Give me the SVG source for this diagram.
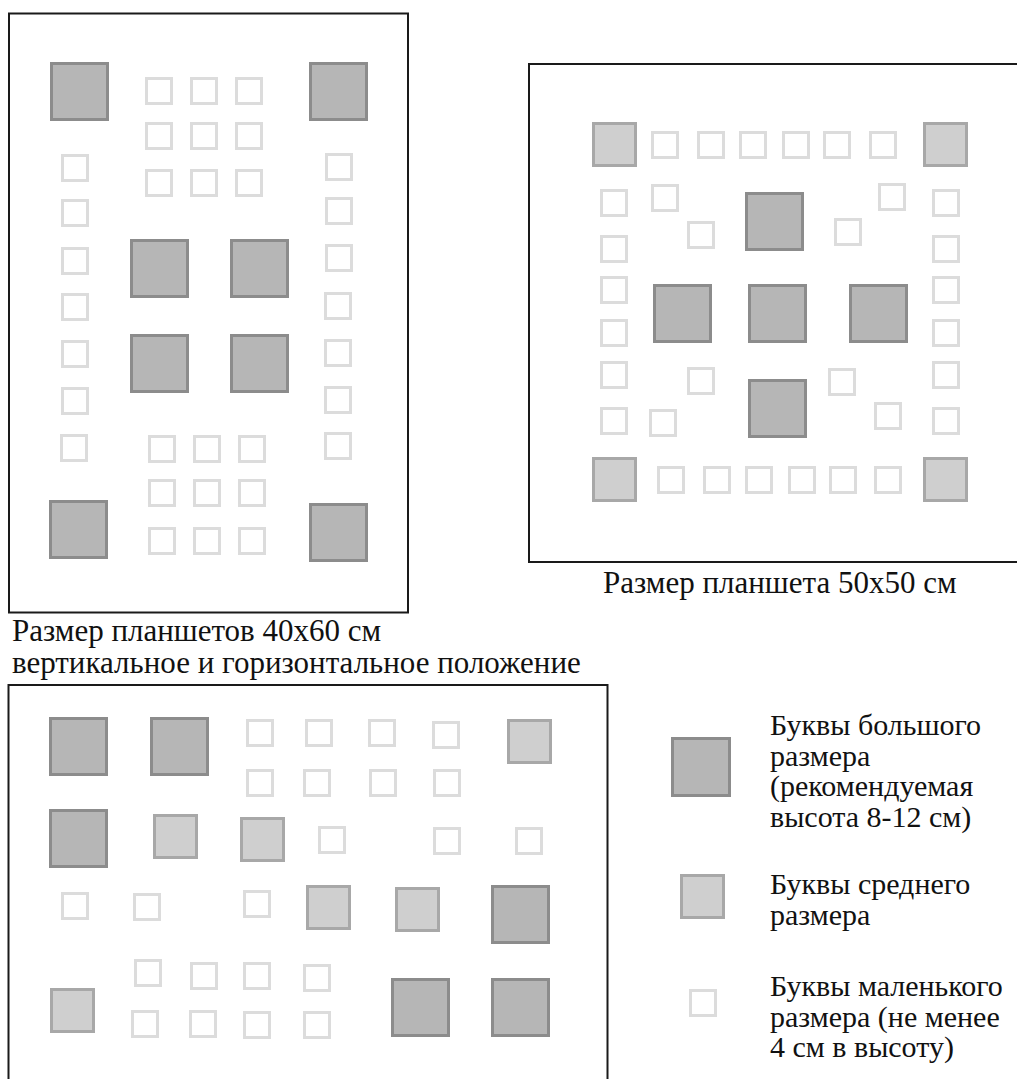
<svg xmlns="http://www.w3.org/2000/svg" width="1017" height="1079" viewBox="0 0 1017 1079">
<style>
.frame{fill:none;stroke:#1a1a1a;stroke-width:2}
.b{fill:#b6b6b6;stroke:#8c8c8c;stroke-width:3}
.m{fill:#cfcfcf;stroke:#a8a8a8;stroke-width:3}
.s{fill:#ffffff;stroke:#dcdcdc;stroke-width:3}
.cap{font-size:31px}
.leg{font-size:30px}
</style>
<defs>
<rect id="B" class="b" x="1.5" y="1.5" width="56" height="56"/>
<rect id="M" class="m" x="1.5" y="1.5" width="42" height="42"/>
<rect id="S" class="s" x="1.5" y="1.5" width="25" height="25"/>
</defs>
<rect width="1017" height="1079" fill="#ffffff"/>

<g id="panel-40x60-vertical">
<rect class="frame" x="9" y="13.5" width="399" height="599"/>
<use href="#B" x="50" y="62"/><use href="#B" x="309" y="62"/>
<use href="#B" x="130" y="239"/><use href="#B" x="230" y="239"/>
<use href="#B" x="130" y="334"/><use href="#B" x="230" y="334"/>
<use href="#B" x="49" y="500"/><use href="#B" x="309" y="503"/>
<use href="#S" x="145" y="77"/><use href="#S" x="190" y="77"/><use href="#S" x="235" y="77"/>
<use href="#S" x="145" y="122"/><use href="#S" x="190" y="122"/><use href="#S" x="235" y="122"/>
<use href="#S" x="145" y="169"/><use href="#S" x="190" y="169"/><use href="#S" x="235" y="169"/>
<use href="#S" x="61" y="154"/><use href="#S" x="61" y="199"/><use href="#S" x="61" y="247"/><use href="#S" x="61" y="293"/><use href="#S" x="61" y="340"/><use href="#S" x="61" y="387"/><use href="#S" x="60" y="434"/>
<use href="#S" x="325" y="153"/><use href="#S" x="325" y="197"/><use href="#S" x="325" y="244"/><use href="#S" x="324" y="292"/><use href="#S" x="324" y="339"/><use href="#S" x="324" y="386"/><use href="#S" x="324" y="432"/>
<use href="#S" x="148" y="435"/><use href="#S" x="193" y="435"/><use href="#S" x="238" y="435"/>
<use href="#S" x="148" y="479"/><use href="#S" x="193" y="479"/><use href="#S" x="238" y="479"/>
<use href="#S" x="148" y="527"/><use href="#S" x="193" y="527"/><use href="#S" x="238" y="527"/>
</g>

<g id="panel-50x50">
<rect class="frame" x="529" y="64" width="500" height="498"/>
<use href="#M" x="592" y="122"/><use href="#M" x="923" y="122"/>
<use href="#M" x="592" y="457"/><use href="#M" x="923" y="457"/>
<use href="#S" x="651" y="131"/><use href="#S" x="697" y="131"/><use href="#S" x="739" y="131"/><use href="#S" x="782" y="131"/><use href="#S" x="823" y="131"/><use href="#S" x="869" y="131"/>
<use href="#S" x="657" y="466"/><use href="#S" x="703" y="466"/><use href="#S" x="745" y="466"/><use href="#S" x="788" y="466"/><use href="#S" x="829" y="466"/><use href="#S" x="874" y="466"/>
<use href="#S" x="600" y="189"/><use href="#S" x="600" y="235"/><use href="#S" x="600" y="276"/><use href="#S" x="600" y="319"/><use href="#S" x="600" y="361"/><use href="#S" x="600" y="407"/>
<use href="#S" x="932" y="189"/><use href="#S" x="932" y="235"/><use href="#S" x="932" y="276"/><use href="#S" x="932" y="319"/><use href="#S" x="932" y="361"/><use href="#S" x="932" y="407"/>
<use href="#S" x="651" y="184"/><use href="#S" x="687" y="221"/><use href="#S" x="834" y="218"/><use href="#S" x="878" y="183"/>
<use href="#S" x="687" y="367"/><use href="#S" x="828" y="368"/><use href="#S" x="649" y="409"/><use href="#S" x="874" y="402"/>
<use href="#B" x="745" y="192"/>
<use href="#B" x="653" y="284"/><use href="#B" x="748" y="284"/><use href="#B" x="849" y="284"/>
<use href="#B" x="748" y="379"/>
</g>

<g id="panel-40x60-horizontal">
<rect class="frame" x="8.5" y="685" width="599" height="420"/>
<use href="#B" x="49" y="717"/><use href="#B" x="150" y="717"/><use href="#B" x="49" y="809"/>
<use href="#B" x="491" y="885"/><use href="#B" x="391" y="978"/><use href="#B" x="491" y="978"/>
<use href="#M" x="507" y="719"/><use href="#M" x="153" y="814"/><use href="#M" x="240" y="817"/>
<use href="#M" x="306" y="885"/><use href="#M" x="395" y="887"/><use href="#M" x="50" y="988"/>
<use href="#S" x="246" y="719"/><use href="#S" x="305" y="719"/><use href="#S" x="368" y="719"/><use href="#S" x="432" y="721"/>
<use href="#S" x="246" y="769"/><use href="#S" x="303" y="769"/><use href="#S" x="369" y="769"/><use href="#S" x="433" y="769"/>
<use href="#S" x="318" y="826"/><use href="#S" x="433" y="827"/><use href="#S" x="515" y="827"/>
<use href="#S" x="61" y="892"/><use href="#S" x="133" y="893"/><use href="#S" x="243" y="890"/>
<use href="#S" x="134" y="959"/><use href="#S" x="190" y="962"/><use href="#S" x="243" y="962"/><use href="#S" x="303" y="964"/>
<use href="#S" x="131" y="1010"/><use href="#S" x="189" y="1010"/><use href="#S" x="243" y="1011"/><use href="#S" x="303" y="1011"/>
</g>

<g id="captions" font-family="'Liberation Serif', 'DejaVu Serif', serif" fill="#111111">
<text class="cap" x="12" y="641">Размер планшетов 40x60 см</text>
<text class="cap" x="12" y="673">вертикальное и горизонтальное положение</text>
<text class="cap" x="603" y="593">Размер планшета 50x50 см</text>
</g>

<g id="legend" font-family="'Liberation Serif', 'DejaVu Serif', serif" fill="#111111">
<rect class="b" x="672.5" y="738.5" width="57" height="57"/>
<rect class="m" x="681.5" y="875.5" width="42" height="42"/>
<rect class="s" x="690.5" y="990.5" width="25" height="25"/>
<text class="leg" x="770" y="735">Буквы большого</text>
<text class="leg" x="770" y="766">размера</text>
<text class="leg" x="770" y="796">(рекомендуемая</text>
<text class="leg" x="770" y="827">высота 8-12 см)</text>
<text class="leg" x="770" y="894">Буквы среднего</text>
<text class="leg" x="770" y="925">размера</text>
<text class="leg" x="770" y="996">Буквы маленького</text>
<text class="leg" x="770" y="1027">размера (не менее</text>
<text class="leg" x="770" y="1057">4 см в высоту)</text>
</g>
</svg>
